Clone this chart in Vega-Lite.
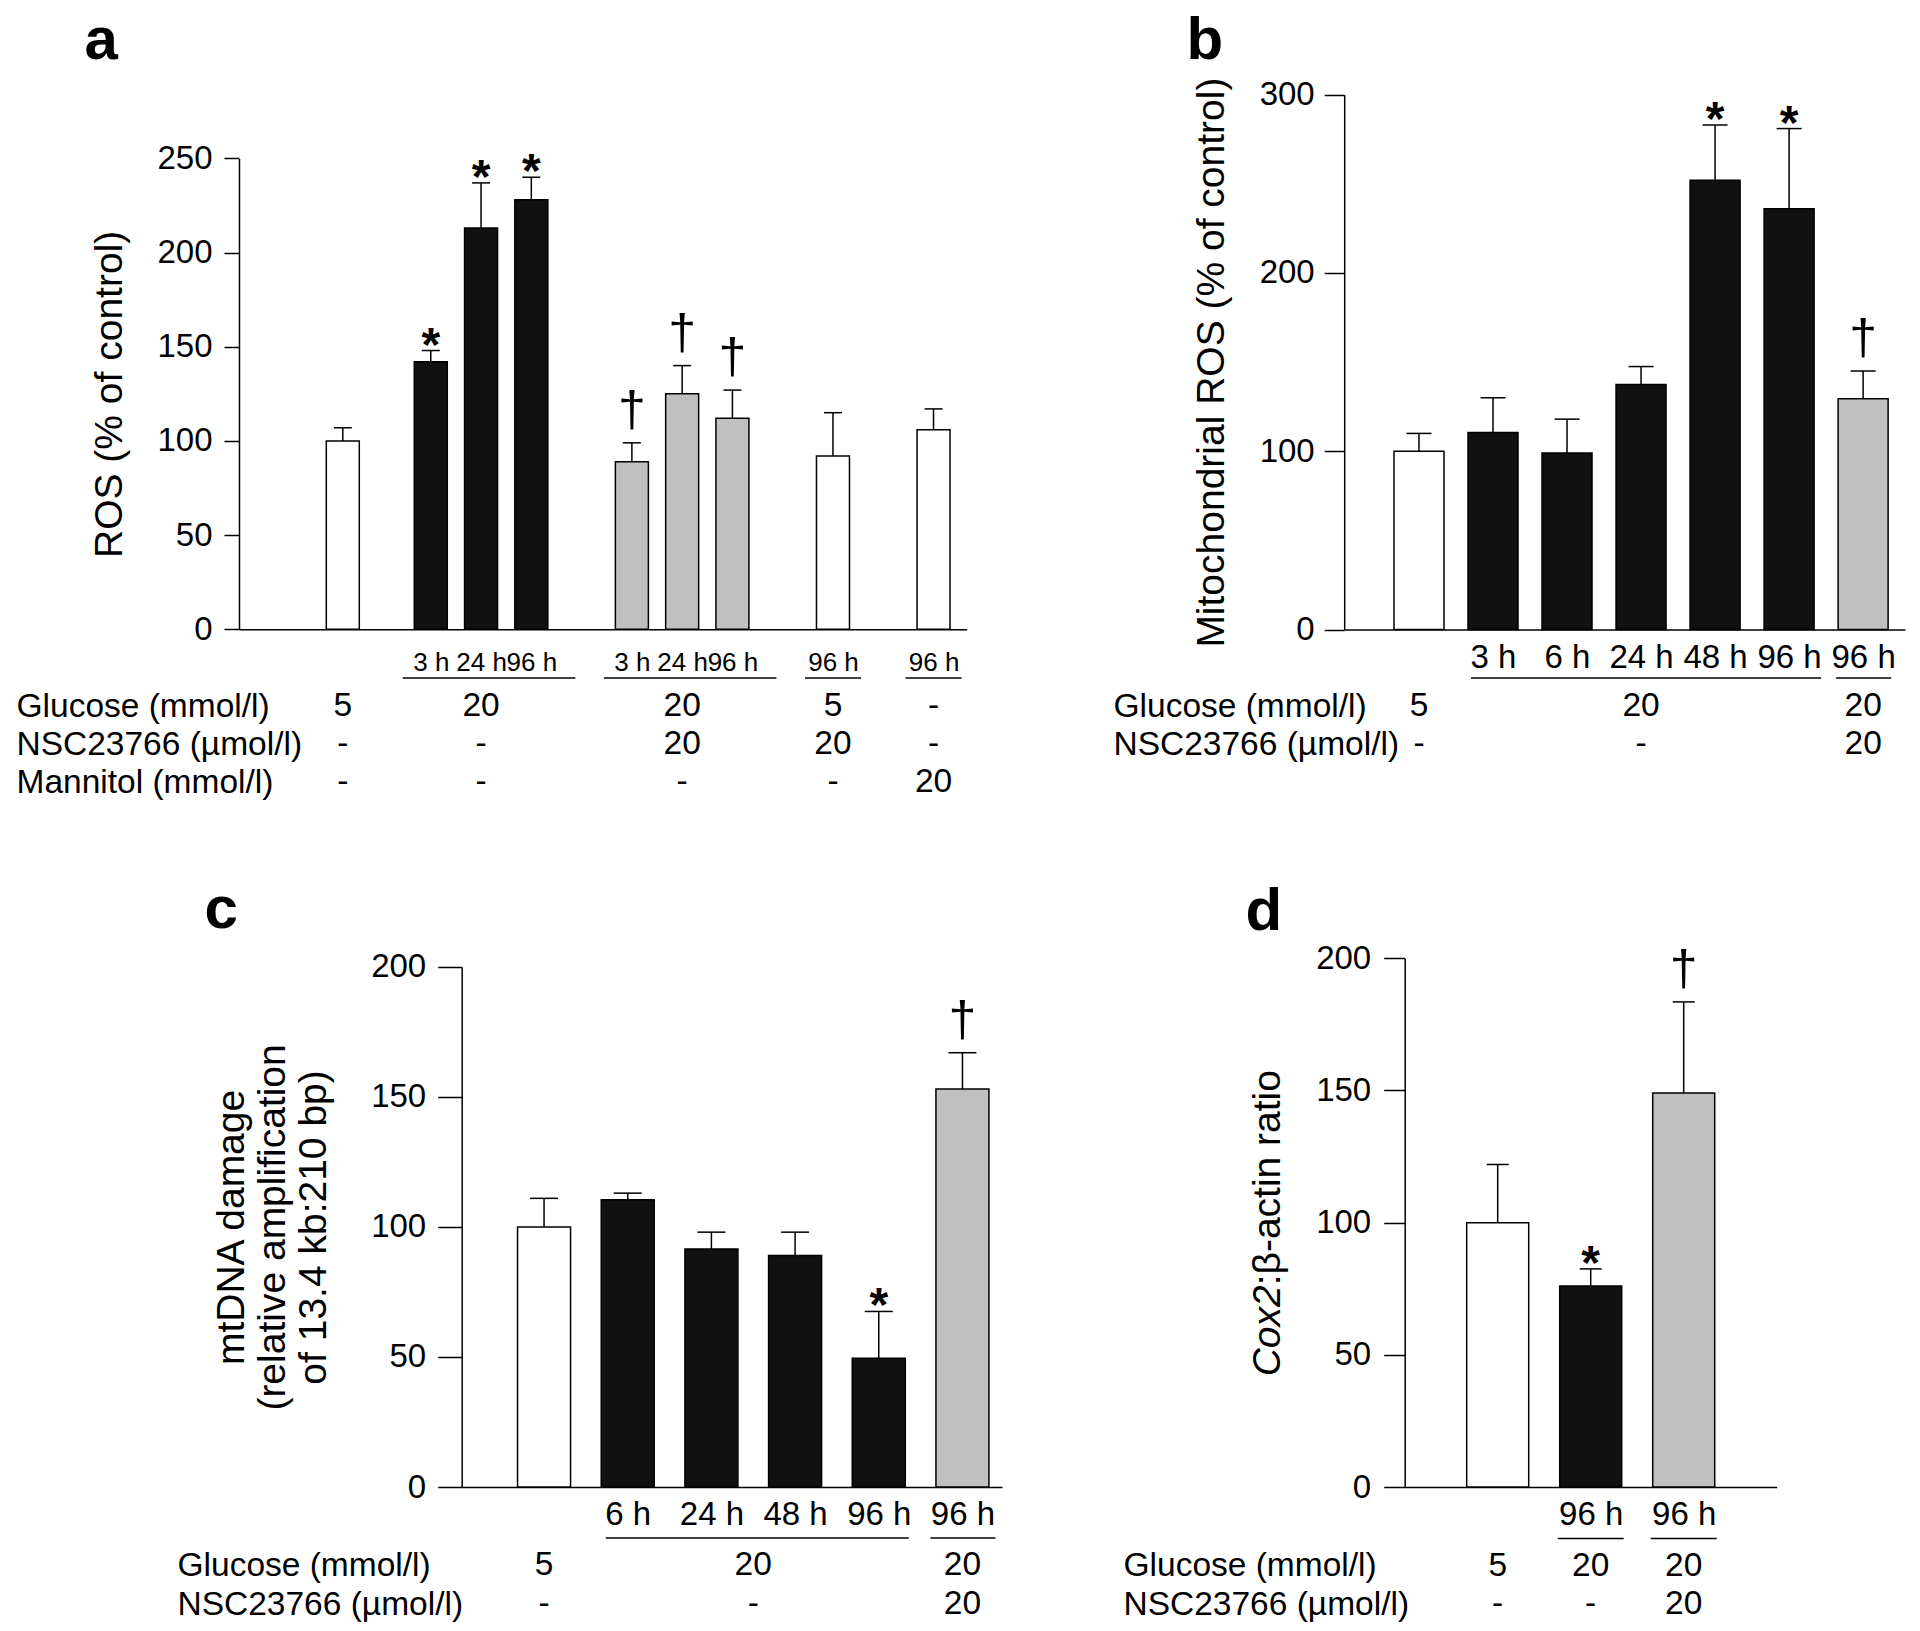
{
  "$schema": "https://vega.github.io/schema/vega-lite/v6.json",
  "width": 1920,
  "height": 1631,
  "padding": 0,
  "autosize": {"type": "none"},
  "background": "white",
  "config": {
    "view": {"stroke": null},
    "font": "Liberation Sans",
    "axis": {"grid": false, "domainColor": "black", "tickColor": "black", "labelColor": "black", "titleColor": "black", "labelFont": "Liberation Sans", "titleFont": "Liberation Sans", "titleFontWeight": "normal", "labelLimit": 700, "domainWidth": 1.5, "tickWidth": 1.5}
  },
  "datasets": {
    "a_bars": [
      {"key": "Control", "set": "control", "mean": 100, "upper": 107, "sig": ""},
      {"key": "HG|3 h", "set": "high glucose", "mean": 142, "upper": 148, "sig": "*"},
      {"key": "HG|24 h", "set": "high glucose", "mean": 213, "upper": 237, "sig": "*"},
      {"key": "HG|96 h", "set": "high glucose", "mean": 228, "upper": 240, "sig": "*"},
      {"key": "HG+NSC|3 h", "set": "high glucose + NSC23766", "mean": 89, "upper": 99, "sig": "†"},
      {"key": "HG+NSC|24 h", "set": "high glucose + NSC23766", "mean": 125, "upper": 140, "sig": "†"},
      {"key": "HG+NSC|96 h", "set": "high glucose + NSC23766", "mean": 112, "upper": 127, "sig": "†"},
      {"key": "NSC|96 h", "set": "control", "mean": 92, "upper": 115, "sig": ""},
      {"key": "Mannitol|96 h", "set": "control", "mean": 106, "upper": 117, "sig": ""}
    ],
    "a_table": [
      {"row": "Glucose (mmol/l)", "key": "Control", "value": "5"},
      {"row": "Glucose (mmol/l)", "key": "HG|24 h", "value": "20"},
      {"row": "Glucose (mmol/l)", "key": "HG+NSC|24 h", "value": "20"},
      {"row": "Glucose (mmol/l)", "key": "NSC|96 h", "value": "5"},
      {"row": "Glucose (mmol/l)", "key": "Mannitol|96 h", "value": "-"},
      {"row": "NSC23766 (µmol/l)", "key": "Control", "value": "-"},
      {"row": "NSC23766 (µmol/l)", "key": "HG|24 h", "value": "-"},
      {"row": "NSC23766 (µmol/l)", "key": "HG+NSC|24 h", "value": "20"},
      {"row": "NSC23766 (µmol/l)", "key": "NSC|96 h", "value": "20"},
      {"row": "NSC23766 (µmol/l)", "key": "Mannitol|96 h", "value": "-"},
      {"row": "Mannitol (mmol/l)", "key": "Control", "value": "-"},
      {"row": "Mannitol (mmol/l)", "key": "HG|24 h", "value": "-"},
      {"row": "Mannitol (mmol/l)", "key": "HG+NSC|24 h", "value": "-"},
      {"row": "Mannitol (mmol/l)", "key": "NSC|96 h", "value": "-"},
      {"row": "Mannitol (mmol/l)", "key": "Mannitol|96 h", "value": "20"}
    ],
    "a_brackets": [
      {"from": "HG|3 h", "to": "HG|96 h"},
      {"from": "HG+NSC|3 h", "to": "HG+NSC|96 h"},
      {"from": "NSC|96 h", "to": "NSC|96 h"},
      {"from": "Mannitol|96 h", "to": "Mannitol|96 h"}
    ],
    "b_bars": [
      {"key": "Control", "set": "control", "mean": 100, "upper": 110, "sig": ""},
      {"key": "HG|3 h", "set": "high glucose", "mean": 110.5, "upper": 130, "sig": ""},
      {"key": "HG|6 h", "set": "high glucose", "mean": 99, "upper": 118, "sig": ""},
      {"key": "HG|24 h", "set": "high glucose", "mean": 137.5, "upper": 147.5, "sig": ""},
      {"key": "HG|48 h", "set": "high glucose", "mean": 252, "upper": 283, "sig": "*"},
      {"key": "HG|96 h", "set": "high glucose", "mean": 236, "upper": 281, "sig": "*"},
      {"key": "HG+NSC|96 h", "set": "high glucose + NSC23766", "mean": 129.5, "upper": 145, "sig": "†"}
    ],
    "b_table": [
      {"row": "Glucose (mmol/l)", "key": "Control", "value": "5"},
      {"row": "Glucose (mmol/l)", "key": "HG|24 h", "value": "20"},
      {"row": "Glucose (mmol/l)", "key": "HG+NSC|96 h", "value": "20"},
      {"row": "NSC23766 (µmol/l)", "key": "Control", "value": "-"},
      {"row": "NSC23766 (µmol/l)", "key": "HG|24 h", "value": "-"},
      {"row": "NSC23766 (µmol/l)", "key": "HG+NSC|96 h", "value": "20"}
    ],
    "b_brackets": [
      {"from": "HG|3 h", "to": "HG|96 h"},
      {"from": "HG+NSC|96 h", "to": "HG+NSC|96 h"}
    ],
    "c_bars": [
      {"key": "Control", "set": "control", "mean": 100, "upper": 111, "sig": ""},
      {"key": "HG|6 h", "set": "high glucose", "mean": 110.5, "upper": 113, "sig": ""},
      {"key": "HG|24 h", "set": "high glucose", "mean": 91.5, "upper": 98, "sig": ""},
      {"key": "HG|48 h", "set": "high glucose", "mean": 89, "upper": 98, "sig": ""},
      {"key": "HG|96 h", "set": "high glucose", "mean": 49.5, "upper": 67.5, "sig": "*"},
      {"key": "HG+NSC|96 h", "set": "high glucose + NSC23766", "mean": 153, "upper": 167, "sig": "†"}
    ],
    "c_table": [
      {"row": "Glucose (mmol/l)", "key": "Control", "value": "5"},
      {"row": "Glucose (mmol/l)", "key": "HG", "value": "20"},
      {"row": "Glucose (mmol/l)", "key": "HG+NSC|96 h", "value": "20"},
      {"row": "NSC23766 (µmol/l)", "key": "Control", "value": "-"},
      {"row": "NSC23766 (µmol/l)", "key": "HG", "value": "-"},
      {"row": "NSC23766 (µmol/l)", "key": "HG+NSC|96 h", "value": "20"}
    ],
    "c_brackets": [
      {"from": "HG|6 h", "to": "HG|96 h"},
      {"from": "HG+NSC|96 h", "to": "HG+NSC|96 h"}
    ],
    "d_bars": [
      {"key": "Control", "set": "control", "mean": 100, "upper": 122, "sig": ""},
      {"key": "HG|96 h", "set": "high glucose", "mean": 76, "upper": 82.5, "sig": "*"},
      {"key": "HG+NSC|96 h", "set": "high glucose + NSC23766", "mean": 149, "upper": 183.5, "sig": "†"}
    ],
    "d_table": [
      {"row": "Glucose (mmol/l)", "key": "Control", "value": "5"},
      {"row": "Glucose (mmol/l)", "key": "HG|96 h", "value": "20"},
      {"row": "Glucose (mmol/l)", "key": "HG+NSC|96 h", "value": "20"},
      {"row": "NSC23766 (µmol/l)", "key": "Control", "value": "-"},
      {"row": "NSC23766 (µmol/l)", "key": "HG|96 h", "value": "-"},
      {"row": "NSC23766 (µmol/l)", "key": "HG+NSC|96 h", "value": "20"}
    ],
    "d_brackets": [
      {"from": "HG|96 h", "to": "HG|96 h"},
      {"from": "HG+NSC|96 h", "to": "HG+NSC|96 h"}
    ]
  },
  "layer": [
    {
      "layer": [
        {
          "data": {"name": "a_bars"},
          "layer": [
            {
              "mark": {"type": "bar", "width": 33, "stroke": "black", "strokeWidth": 1.5},
              "encoding": {
                "x": {"field": "key", "type": "nominal",
                  "scale": {"type": "point", "domain": ["_l1", "_l2", "_l3", "_l4", "_l5", "_l6", "_l7", "_l8", "Control", "_1", "_2", "_3", "_4", "_5", "_6", "HG|3 h", "_7", "_8", "_9", "HG|24 h", "_10", "_11", "_12", "HG|96 h", "_13", "_14", "_15", "_16", "_17", "_18", "_19", "HG+NSC|3 h", "_20", "_21", "_22", "HG+NSC|24 h", "_23", "_24", "_25", "HG+NSC|96 h", "_26", "_27", "_28", "_29", "_30", "_31", "_32", "NSC|96 h", "_33", "_34", "_35", "_36", "_37", "_38", "_39", "Mannitol|96 h", "_r1", "_r2"], "range": [239, 966.7], "padding": 0.4485, "align": 0.2876},
                  "axis": {"orient": "bottom", "offset": -1001.7, "domain": true, "ticks": false, "tickSize": 0, "labelAngle": 0, "labelExpr": "indexof(datum.value, '|') >= 0 ? substring(datum.value, indexof(datum.value, '|') + 1) : ''", "labelFontSize": 26, "labelPadding": 20, "title": "a", "titleX": 84, "titleY": -571, "titleAlign": "left", "titleBaseline": "alphabetic", "titleAngle": 0, "titleFontSize": 60, "titleFontWeight": "bold"}},
                "y": {"field": "mean", "type": "quantitative",
                  "scale": {"domain": [0, 250], "range": [629.3, 158.4], "nice": false, "zero": true},
                  "axis": {"orient": "left", "offset": -239, "values": [0, 50, 100, 150, 200, 250], "tickSize": 15, "labelPadding": 12, "labelFontSize": 33, "title": "ROS (% of control)", "titleFontSize": 39, "titlePadding": 27}},
                "color": {"field": "set", "type": "nominal", "scale": {"domain": ["control", "high glucose", "high glucose + NSC23766"], "range": ["#ffffff", "#111111", "#c0c0c0"]}, "legend": null}
              }
            },
            {
              "mark": {"type": "rule", "color": "black", "strokeWidth": 1.5},
              "encoding": {"x": {"field": "key", "type": "nominal"}, "y": {"field": "mean", "type": "quantitative"}, "y2": {"field": "upper"}}
            },
            {
              "mark": {"type": "tick", "orient": "horizontal", "size": 18, "thickness": 1.5, "color": "black", "opacity": 1},
              "encoding": {"x": {"field": "key", "type": "nominal"}, "y": {"field": "upper", "type": "quantitative"}}
            },
            {
              "transform": [{"filter": "datum.sig == '*'"}],
              "mark": {"type": "text", "fontSize": 48, "fontWeight": "bold", "baseline": "alphabetic", "dy": 10, "color": "black"},
              "encoding": {"x": {"field": "key", "type": "nominal"}, "y": {"field": "upper", "type": "quantitative"}, "text": {"field": "sig"}}
            },
            {
              "transform": [{"filter": "datum.sig == '†'"}],
              "mark": {"type": "text", "fontSize": 50, "baseline": "alphabetic", "dy": -17, "color": "black"},
              "encoding": {"x": {"field": "key", "type": "nominal"}, "y": {"field": "upper", "type": "quantitative"}, "text": {"field": "sig"}}
            }
          ]
        },
        {
          "layer": [
            {
              "data": {"name": "a_table"},
              "mark": {"type": "text", "fontSize": 33.5, "color": "black", "align": "center", "baseline": "middle"},
              "encoding": {
                "x": {"field": "key", "type": "nominal"},
                "y": {"field": "row", "type": "nominal", "scale": {"type": "point", "domain": ["Glucose (mmol/l)", "NSC23766 (µmol/l)", "Mannitol (mmol/l)"], "range": [706, 782], "padding": 0},
                  "axis": {"orient": "left", "offset": -16, "domain": false, "ticks": false, "tickSize": 0, "labelPadding": 0, "labelAlign": "left", "labelFontSize": 33.5, "title": null}},
                "text": {"field": "value"}
              }
            },
            {
              "data": {"name": "a_brackets"},
              "transform": [{"filter": "datum.from != datum.to"}],
              "mark": {"type": "rule", "color": "black", "strokeWidth": 1.5, "yOffset": -28, "xOffset": -28, "x2Offset": 44},
              "encoding": {"x": {"field": "from", "type": "nominal"}, "x2": {"field": "to"}, "y": {"datum": "Glucose (mmol/l)", "type": "nominal"}}
            },
            {
              "data": {"name": "a_brackets"},
              "transform": [{"filter": "datum.from == datum.to"}],
              "mark": {"type": "rule", "color": "black", "strokeWidth": 1.5, "yOffset": -28, "xOffset": -28, "x2Offset": 28},
              "encoding": {"x": {"field": "from", "type": "nominal"}, "x2": {"field": "to"}, "y": {"datum": "Glucose (mmol/l)", "type": "nominal"}}
            }
          ]
        }
      ],
      "resolve": {"scale": {"y": "independent"}}
    },
    {
      "layer": [
        {
          "data": {"name": "b_bars"},
          "layer": [
            {
              "mark": {"type": "bar", "width": 50, "stroke": "black", "strokeWidth": 1.5},
              "encoding": {
                "x": {"field": "key", "type": "nominal",
                  "scale": {"type": "point", "domain": ["Control", "HG|3 h", "HG|6 h", "HG|24 h", "HG|48 h", "HG|96 h", "HG+NSC|96 h"], "range": [1344.2, 1905], "padding": 0.788, "align": 0.641},
                  "axis": {"orient": "bottom", "offset": -1001.5, "domain": true, "ticks": false, "tickSize": 0, "labelAngle": 0, "labelExpr": "indexof(datum.value, '|') >= 0 ? substring(datum.value, indexof(datum.value, '|') + 1) : ''", "labelFontSize": 33, "labelPadding": 12, "title": "b", "titleX": 1186, "titleY": -570.6, "titleAlign": "left", "titleBaseline": "alphabetic", "titleAngle": 0, "titleFontSize": 60, "titleFontWeight": "bold"}},
                "y": {"field": "mean", "type": "quantitative",
                  "scale": {"domain": [0, 300], "range": [629.5, 94.7], "nice": false, "zero": true},
                  "axis": {"orient": "left", "offset": -1344.2, "values": [0, 100, 200, 300], "tickSize": 20, "labelPadding": 10, "labelFontSize": 33, "title": "Mitochondrial ROS (% of control)", "titleFontSize": 39, "titlePadding": 28}},
                "color": {"field": "set", "type": "nominal", "scale": {"domain": ["control", "high glucose", "high glucose + NSC23766"], "range": ["#ffffff", "#111111", "#c0c0c0"]}, "legend": null}
              }
            },
            {
              "mark": {"type": "rule", "color": "black", "strokeWidth": 1.5},
              "encoding": {"x": {"field": "key", "type": "nominal"}, "y": {"field": "mean", "type": "quantitative"}, "y2": {"field": "upper"}}
            },
            {
              "mark": {"type": "tick", "orient": "horizontal", "size": 25, "thickness": 1.5, "color": "black", "opacity": 1},
              "encoding": {"x": {"field": "key", "type": "nominal"}, "y": {"field": "upper", "type": "quantitative"}}
            },
            {
              "transform": [{"filter": "datum.sig == '*'"}],
              "mark": {"type": "text", "fontSize": 48, "fontWeight": "bold", "baseline": "alphabetic", "dy": 10, "color": "black"},
              "encoding": {"x": {"field": "key", "type": "nominal"}, "y": {"field": "upper", "type": "quantitative"}, "text": {"field": "sig"}}
            },
            {
              "transform": [{"filter": "datum.sig == '†'"}],
              "mark": {"type": "text", "fontSize": 50, "baseline": "alphabetic", "dy": -17, "color": "black"},
              "encoding": {"x": {"field": "key", "type": "nominal"}, "y": {"field": "upper", "type": "quantitative"}, "text": {"field": "sig"}}
            }
          ]
        },
        {
          "layer": [
            {
              "data": {"name": "b_table"},
              "mark": {"type": "text", "fontSize": 33.5, "color": "black", "align": "center", "baseline": "middle"},
              "encoding": {
                "x": {"field": "key", "type": "nominal"},
                "y": {"field": "row", "type": "nominal", "scale": {"type": "point", "domain": ["Glucose (mmol/l)", "NSC23766 (µmol/l)"], "range": [706, 744], "padding": 0},
                  "axis": {"orient": "left", "offset": -1113, "domain": false, "ticks": false, "tickSize": 0, "labelPadding": 0, "labelAlign": "left", "labelFontSize": 33.5, "title": null}},
                "text": {"field": "value"}
              }
            },
            {
              "data": {"name": "b_brackets"},
              "transform": [{"filter": "datum.from != datum.to"}],
              "mark": {"type": "rule", "color": "black", "strokeWidth": 1.5, "yOffset": -28, "xOffset": -22, "x2Offset": 32},
              "encoding": {"x": {"field": "from", "type": "nominal"}, "x2": {"field": "to"}, "y": {"datum": "Glucose (mmol/l)", "type": "nominal"}}
            },
            {
              "data": {"name": "b_brackets"},
              "transform": [{"filter": "datum.from == datum.to"}],
              "mark": {"type": "rule", "color": "black", "strokeWidth": 1.5, "yOffset": -28, "xOffset": -27, "x2Offset": 28},
              "encoding": {"x": {"field": "from", "type": "nominal"}, "x2": {"field": "to"}, "y": {"datum": "Glucose (mmol/l)", "type": "nominal"}}
            }
          ]
        }
      ],
      "resolve": {"scale": {"y": "independent"}}
    },
    {
      "layer": [
        {
          "data": {"name": "c_bars"},
          "layer": [
            {
              "mark": {"type": "bar", "width": 53, "stroke": "black", "strokeWidth": 1.5},
              "encoding": {
                "x": {"field": "key", "type": "nominal",
                  "scale": {"type": "point", "domain": ["_l1", "Control", "_1", "HG|6 h", "_2", "HG|24 h", "HG", "HG|48 h", "_3", "HG|96 h", "_4", "HG+NSC|96 h"], "range": [461.7, 1002], "padding": 0.957, "align": 0.506},
                  "axis": {"orient": "bottom", "offset": -144, "domain": true, "ticks": false, "tickSize": 0, "labelAngle": 0, "labelExpr": "indexof(datum.value, '|') >= 0 ? substring(datum.value, indexof(datum.value, '|') + 1) : ''", "labelFontSize": 33, "labelPadding": 11, "title": "c", "titleX": 204, "titleY": -559.1, "titleAlign": "left", "titleBaseline": "alphabetic", "titleAngle": 0, "titleFontSize": 60, "titleFontWeight": "bold"}},
                "y": {"field": "mean", "type": "quantitative",
                  "scale": {"domain": [0, 200], "range": [1487, 966.9], "nice": false, "zero": true},
                  "axis": {"orient": "left", "offset": -461.7, "values": [0, 50, 100, 150, 200], "tickSize": 24, "labelPadding": 12, "labelFontSize": 33, "title": ["mtDNA damage", "(relative amplification", "of 13.4 kb:210 bp)"], "titleFontSize": 39, "titleLineHeight": 41, "titlePadding": 37}},
                "color": {"field": "set", "type": "nominal", "scale": {"domain": ["control", "high glucose", "high glucose + NSC23766"], "range": ["#ffffff", "#111111", "#c0c0c0"]}, "legend": null}
              }
            },
            {
              "mark": {"type": "rule", "color": "black", "strokeWidth": 1.5},
              "encoding": {"x": {"field": "key", "type": "nominal"}, "y": {"field": "mean", "type": "quantitative"}, "y2": {"field": "upper"}}
            },
            {
              "mark": {"type": "tick", "orient": "horizontal", "size": 28, "thickness": 1.5, "color": "black", "opacity": 1},
              "encoding": {"x": {"field": "key", "type": "nominal"}, "y": {"field": "upper", "type": "quantitative"}}
            },
            {
              "transform": [{"filter": "datum.sig == '*'"}],
              "mark": {"type": "text", "fontSize": 48, "fontWeight": "bold", "baseline": "alphabetic", "dy": 10, "color": "black"},
              "encoding": {"x": {"field": "key", "type": "nominal"}, "y": {"field": "upper", "type": "quantitative"}, "text": {"field": "sig"}}
            },
            {
              "transform": [{"filter": "datum.sig == '†'"}],
              "mark": {"type": "text", "fontSize": 50, "baseline": "alphabetic", "dy": -17, "color": "black"},
              "encoding": {"x": {"field": "key", "type": "nominal"}, "y": {"field": "upper", "type": "quantitative"}, "text": {"field": "sig"}}
            }
          ]
        },
        {
          "layer": [
            {
              "data": {"name": "c_table"},
              "mark": {"type": "text", "fontSize": 33.5, "color": "black", "align": "center", "baseline": "middle"},
              "encoding": {
                "x": {"field": "key", "type": "nominal"},
                "y": {"field": "row", "type": "nominal", "scale": {"type": "point", "domain": ["Glucose (mmol/l)", "NSC23766 (µmol/l)"], "range": [1565, 1604], "padding": 0},
                  "axis": {"orient": "left", "offset": -177, "domain": false, "ticks": false, "tickSize": 0, "labelPadding": 0, "labelAlign": "left", "labelFontSize": 33.5, "title": null}},
                "text": {"field": "value"}
              }
            },
            {
              "data": {"name": "c_brackets"},
              "transform": [{"filter": "datum.from != datum.to"}],
              "mark": {"type": "rule", "color": "black", "strokeWidth": 1.5, "yOffset": -27, "xOffset": -22, "x2Offset": 30},
              "encoding": {"x": {"field": "from", "type": "nominal"}, "x2": {"field": "to"}, "y": {"datum": "Glucose (mmol/l)", "type": "nominal"}}
            },
            {
              "data": {"name": "c_brackets"},
              "transform": [{"filter": "datum.from == datum.to"}],
              "mark": {"type": "rule", "color": "black", "strokeWidth": 1.5, "yOffset": -27, "xOffset": -32, "x2Offset": 33},
              "encoding": {"x": {"field": "from", "type": "nominal"}, "x2": {"field": "to"}, "y": {"datum": "Glucose (mmol/l)", "type": "nominal"}}
            }
          ]
        }
      ],
      "resolve": {"scale": {"y": "independent"}}
    },
    {
      "layer": [
        {
          "data": {"name": "d_bars"},
          "layer": [
            {
              "mark": {"type": "bar", "width": 62, "stroke": "black", "strokeWidth": 1.5},
              "encoding": {
                "x": {"field": "key", "type": "nominal",
                  "scale": {"type": "point", "domain": ["Control", "HG|96 h", "HG+NSC|96 h"], "range": [1404.7, 1776.7], "padding": 1.0, "align": 0.5},
                  "axis": {"orient": "bottom", "offset": -144, "domain": true, "ticks": false, "tickSize": 0, "labelAngle": 0, "labelExpr": "indexof(datum.value, '|') >= 0 ? substring(datum.value, indexof(datum.value, '|') + 1) : ''", "labelFontSize": 33, "labelPadding": 11, "title": "d", "titleX": 1245, "titleY": -557.6, "titleAlign": "left", "titleBaseline": "alphabetic", "titleAngle": 0, "titleFontSize": 60, "titleFontWeight": "bold"}},
                "y": {"field": "mean", "type": "quantitative",
                  "scale": {"domain": [0, 200], "range": [1487, 958.3], "nice": false, "zero": true},
                  "axis": {"orient": "left", "offset": -1404.7, "values": [0, 50, 100, 150, 200], "tickSize": 21, "labelPadding": 13, "labelFontSize": 33, "title": ":β-actin ratio", "titleFontSize": 39, "titleX": -117.7, "titleY": 1177.2, "titleAngle": -90, "titleAlign": "center", "titleBaseline": "bottom"}},
                "color": {"field": "set", "type": "nominal", "scale": {"domain": ["control", "high glucose", "high glucose + NSC23766"], "range": ["#ffffff", "#111111", "#c0c0c0"]}, "legend": null}
              }
            },
            {
              "mark": {"type": "rule", "color": "black", "strokeWidth": 1.5},
              "encoding": {"x": {"field": "key", "type": "nominal"}, "y": {"field": "mean", "type": "quantitative"}, "y2": {"field": "upper"}}
            },
            {
              "mark": {"type": "tick", "orient": "horizontal", "size": 22, "thickness": 1.5, "color": "black", "opacity": 1},
              "encoding": {"x": {"field": "key", "type": "nominal"}, "y": {"field": "upper", "type": "quantitative"}}
            },
            {
              "transform": [{"filter": "datum.sig == '*'"}],
              "mark": {"type": "text", "fontSize": 48, "fontWeight": "bold", "baseline": "alphabetic", "dy": 10, "color": "black"},
              "encoding": {"x": {"field": "key", "type": "nominal"}, "y": {"field": "upper", "type": "quantitative"}, "text": {"field": "sig"}}
            },
            {
              "transform": [{"filter": "datum.sig == '†'"}],
              "mark": {"type": "text", "fontSize": 50, "baseline": "alphabetic", "dy": -17, "color": "black"},
              "encoding": {"x": {"field": "key", "type": "nominal"}, "y": {"field": "upper", "type": "quantitative"}, "text": {"field": "sig"}}
            }
          ]
        },
        {
          "layer": [
            {
              "data": {"name": "d_table"},
              "mark": {"type": "text", "fontSize": 33.5, "color": "black", "align": "center", "baseline": "middle"},
              "encoding": {
                "x": {"field": "key", "type": "nominal"},
                "y": {"field": "row", "type": "nominal", "scale": {"type": "point", "domain": ["Glucose (mmol/l)", "NSC23766 (µmol/l)"], "range": [1565.5, 1604], "padding": 0},
                  "axis": {"orient": "left", "offset": -1123, "domain": false, "ticks": false, "tickSize": 0, "labelPadding": 0, "labelAlign": "left", "labelFontSize": 33.5, "title": "Cox2", "titleFontSize": 39, "titleFontStyle": "italic", "titleX": 164, "titleY": 1330.3, "titleAngle": -90, "titleAlign": "center", "titleBaseline": "bottom"}},
                "text": {"field": "value"}
              }
            },
            {
              "data": {"name": "d_brackets"},
              "mark": {"type": "rule", "color": "black", "strokeWidth": 1.5, "yOffset": -27, "xOffset": -33, "x2Offset": 33},
              "encoding": {"x": {"field": "from", "type": "nominal"}, "x2": {"field": "to"}, "y": {"datum": "Glucose (mmol/l)", "type": "nominal"}}
            }
          ]
        }
      ],
      "resolve": {"scale": {"y": "independent"}}
    }
  ],
  "resolve": {"scale": {"x": "independent", "y": "independent"}}
}
